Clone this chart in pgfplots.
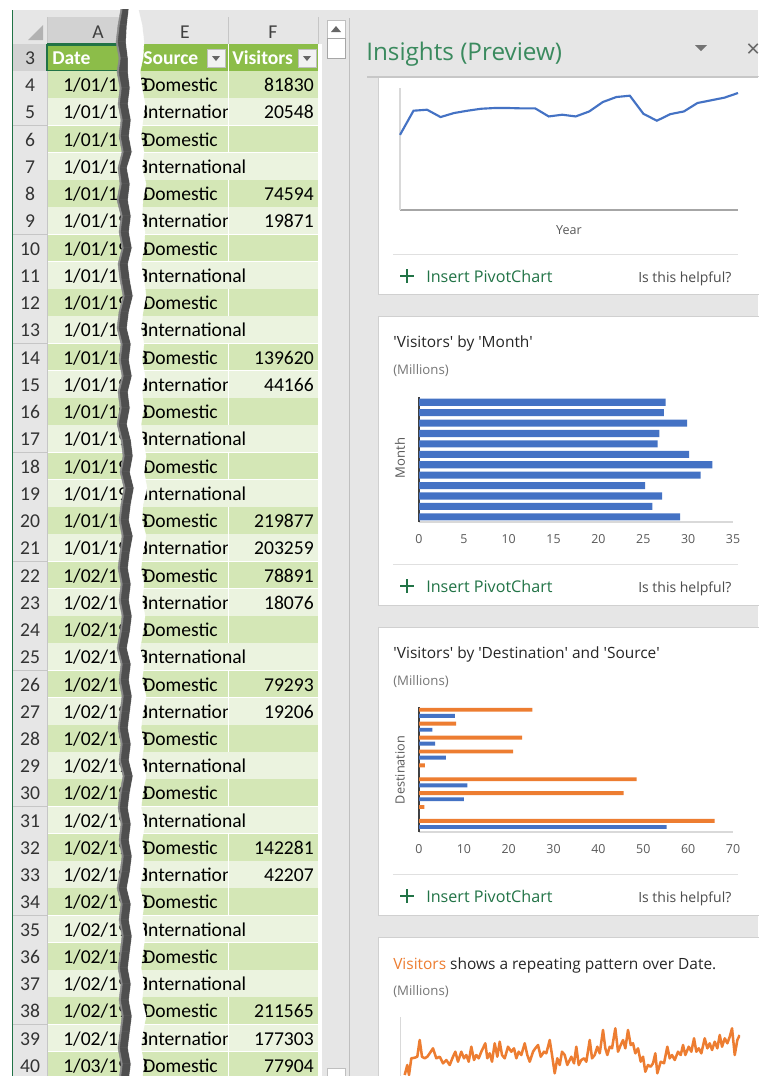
\documentclass[border=0pt]{standalone}
\usepackage{pgfplots}
\pgfplotsset{compat=1.18}
\usepackage{fontspec}
\setmainfont{Carlito}
\newfontfamily\ui{Open Sans}
\definecolor{xblue}{HTML}{4472C4}
\definecolor{xorange}{HTML}{ED7D31}
\definecolor{hdrgreen}{HTML}{8CBD49}
\definecolor{bandD}{HTML}{D4E7B6}
\definecolor{bandL}{HTML}{EBF3DF}
\definecolor{xlgreen}{HTML}{217346}
\definecolor{insgreen}{HTML}{3A8A5E}
\definecolor{panelbg}{HTML}{E6E6E6}
\definecolor{cardline}{HTML}{D0D0D0}
\definecolor{tickgray}{HTML}{595959}
\definecolor{subgray}{HTML}{767676}
\definecolor{titlegray}{HTML}{262626}
\definecolor{hdrgray}{HTML}{E6E6E6}
\definecolor{hdrsel}{HTML}{D2D2D2}
\definecolor{hdrline}{HTML}{C6C6C6}
\definecolor{tearc}{HTML}{4F4F4F}
\definecolor{tearl}{HTML}{8A8A8A}
\definecolor{axlight}{HTML}{D9D9D9}
\definecolor{axmid}{HTML}{A6A6A6}
\definecolor{axdark}{HTML}{404040}
\newcommand\cellfont{\fontsize{14.7}{16}\selectfont}
\newcommand{\xrow}[4]{%
  \pgfmathsetmacro\rT{44+(#1-3)*27.24}%
  \pgfmathsetmacro\rB{\rT+27.24}%
  \pgfmathsetmacro\rBase{\rT+20.5}%
  \ifodd#1\relax\def\bandcol{bandL}\else\def\bandcol{bandD}\fi
  \fill[fill=\bandcol] (47,-\rT) rectangle (318,-\rB);
  \fill[hdrgray] (13,-\rT) rectangle (47,-\rB);
  \draw[hdrline] (13,-\rB) -- (47,-\rB);
  \node[anchor=base,font=\cellfont,text=black!80,inner sep=0] at (30,-\rBase) {#1};
  \node[anchor=base west,font=\cellfont,inner sep=0] at (63,-\rBase) {1/#2/1998};
  \if D#3
    \node[anchor=base west,font=\cellfont,inner sep=0] at (143,-\rBase) {Domestic};
    \draw[white,line width=0.75pt] (228,-\rT) -- (228,-\rB);
  \else
    \if\relax\detokenize{#4}\relax
      \node[anchor=base west,font=\cellfont,inner sep=0] at (143,-\rBase) {International};
    \else
      \begin{scope}
        \clip (140,-\rT) rectangle (227.5,-\rB);
        \node[anchor=base west,font=\cellfont,inner sep=0] at (143,-\rBase) {International};
      \end{scope}
      \draw[white,line width=0.75pt] (228,-\rT) -- (228,-\rB);
    \fi
  \fi
  \node[anchor=base east,font=\cellfont,inner sep=0] at (314,-\rBase) {#4};
  \draw[white,line width=0.75pt] (47,-\rB) -- (318,-\rB);
}
\begin{document}
\begin{tikzpicture}[x=0.75pt,y=0.75pt]
\path[use as bounding box] (0,0) rectangle (758,-1076);
\coordinate (cA) at (400,-210);
\coordinate (cB) at (419,-522);
\coordinate (cC) at (419,-832);
\coordinate (cD) at (400.7,-1017);
\fill[white] (0,0) rectangle (758,-1076);
% ---------------- spreadsheet ----------------
\fill[hdrgray] (12,-10) rectangle (322,-44);
\fill[hdrsel] (47,-17) rectangle (130,-44);
\draw[hdrline] (47,-17) -- (47,-44) (228,-17) -- (228,-44) (318,-17) -- (318,-44) (12,-44) -- (322,-44);
\draw[xlgreen,line width=1.2pt] (47,-43.5) -- (130,-43.5);
\fill[black!30] (28,-40) -- (43,-40) -- (43,-25) -- cycle;
\node[anchor=base,font=\cellfont,text=black!75,inner sep=0] at (98,-38) {A};
\node[anchor=base,font=\cellfont,text=black!75,inner sep=0] at (185,-38) {E};
\node[anchor=base,font=\cellfont,text=black!75,inner sep=0] at (273,-38) {F};
% header row 3
\fill[hdrgreen] (47,-44) rectangle (318,-71.24);
\fill[hdrsel] (13,-44) rectangle (47,-71.24);
\draw[hdrline] (13,-71.24) -- (47,-71.24);
\draw[xlgreen,line width=1.2pt] (46.5,-44) -- (46.5,-71.24);
\node[anchor=base,font=\cellfont,text=black!80,inner sep=0] at (30,-64.5) {3};
\node[anchor=base west,font=\cellfont\bfseries,text=white,inner sep=0] at (52,-64.5) {Date};
\node[anchor=base west,font=\cellfont\bfseries,text=white,inner sep=0] at (143,-64.5) {Source};
\node[anchor=base west,font=\cellfont\bfseries,text=white,inner sep=0] at (232,-64.5) {Visitors};
\draw[white,line width=0.75pt] (228,-44) -- (228,-71.24);
\foreach \bx in {207,298}{
  \filldraw[fill=white!95!black,draw=black!25] (\bx,-49) rectangle (\bx+18,-67);
  \fill[black!60] (\bx+5,-56) -- (\bx+13,-56) -- (\bx+9,-61) -- cycle;
}
\draw[xlgreen,line width=1.5pt] (46.5,-44.5) rectangle (132,-71);
\draw[white,line width=0.75pt] (47,-71.24) -- (318,-71.24);
% data rows
\xrow{4}{01}{D}{81830}
\xrow{5}{01}{I}{20548}
\xrow{6}{01}{D}{}
\xrow{7}{01}{I}{}
\xrow{8}{01}{D}{74594}
\xrow{9}{01}{I}{19871}
\xrow{10}{01}{D}{}
\xrow{11}{01}{I}{}
\xrow{12}{01}{D}{}
\xrow{13}{01}{I}{}
\xrow{14}{01}{D}{139620}
\xrow{15}{01}{I}{44166}
\xrow{16}{01}{D}{}
\xrow{17}{01}{I}{}
\xrow{18}{01}{D}{}
\xrow{19}{01}{I}{}
\xrow{20}{01}{D}{219877}
\xrow{21}{01}{I}{203259}
\xrow{22}{02}{D}{78891}
\xrow{23}{02}{I}{18076}
\xrow{24}{02}{D}{}
\xrow{25}{02}{I}{}
\xrow{26}{02}{D}{79293}
\xrow{27}{02}{I}{19206}
\xrow{28}{02}{D}{}
\xrow{29}{02}{I}{}
\xrow{30}{02}{D}{}
\xrow{31}{02}{I}{}
\xrow{32}{02}{D}{142281}
\xrow{33}{02}{I}{42207}
\xrow{34}{02}{D}{}
\xrow{35}{02}{I}{}
\xrow{36}{02}{D}{}
\xrow{37}{02}{I}{}
\xrow{38}{02}{D}{211565}
\xrow{39}{02}{I}{177303}
\xrow{40}{03}{D}{77904}
\draw[hdrline] (47,-71) -- (47,-1076);
\draw[xlgreen,line width=1pt] (12.5,-10) -- (12.5,-1076);
% tear
\foreach \y/\a/\b/\c [remember=\y as \py (initially 8), remember=\a as \pa (initially 121), remember=\b as \pb (initially 127), remember=\c as \pc (initially 137)] in
 {8/121/127/137, 25/118/125/141, 42/116/124/143, 58/119/126/142, 72/117/126/139, 88/120/128/141, 104/118/126/144, 120/121/129/142, 136/119/127/140, 152/122/130/143, 168/118/125/141, 184/120/128/145, 200/117/126/142, 216/121/129/141, 232/119/127/144, 248/122/130/143, 264/118/126/140, 280/120/128/143, 296/123/131/145, 312/119/127/142, 328/117/125/140, 344/121/129/143, 360/119/127/141, 376/122/130/144, 392/118/126/141, 408/120/128/143, 424/117/125/140, 440/121/129/142, 456/123/131/145, 472/120/128/143, 488/124/132/146, 504/121/129/142, 520/119/127/141, 536/122/131/145, 552/120/128/142, 568/118/126/140, 584/121/129/143, 600/119/127/141, 616/122/130/144, 632/120/128/142, 648/117/125/139, 664/121/129/143, 680/119/127/141, 696/122/130/145, 712/120/128/142, 728/118/126/140, 744/121/129/143, 760/119/127/141, 776/123/131/145, 792/120/128/142, 808/118/126/140, 824/121/129/144, 840/119/127/141, 856/122/130/143, 872/120/128/142, 888/117/125/139, 904/121/129/143, 920/119/127/141, 936/122/130/144, 952/120/128/142, 968/118/126/140, 984/121/129/143, 1000/119/127/141, 1016/122/130/145, 1032/120/128/142, 1048/118/126/140, 1064/121/129/143, 1080/119/127/141}
{
  \filldraw[fill=tearl,draw=tearl,line width=0.3pt] (\pa,-\py) -- (\pb+2,-\py) -- (\b+2,-\y) -- (\a,-\y) -- cycle;
  \filldraw[fill=tearc,draw=tearc,line width=0.3pt] (\pa+2,-\py) -- (\pb+2,-\py) -- (\b+2,-\y) -- (\a+2,-\y) -- cycle;
  \filldraw[fill=white,draw=white,line width=0.3pt] (\pb+2,-\py) -- (\pc+1,-\py) -- (\c+1,-\y) -- (\b+2,-\y) -- cycle;
}
\fill[white] (110,0) rectangle (150,-9);
% scrollbar
\fill[hdrgray] (320,-10) rectangle (350,-1076);
\fill[white] (318,-44) rectangle (322,-1076);
\filldraw[fill=white,draw=black!25] (327,-20) rectangle (345,-38);
\fill[black!60] (331,-32) -- (341,-32) -- (336,-26) -- cycle;
\filldraw[fill=white,draw=black!35] (327,-38) rectangle (345,-58);
\filldraw[fill=white,draw=black!25] (327,-1068) rectangle (345,-1086);
\draw[black!25] (349.5,-18) -- (349.5,-1076);
% ---------------- insights panel ----------------
\fill[panelbg] (350,-10) rectangle (758,-1076);
\node[anchor=base west,font=\ui\fontsize{18.2}{20}\selectfont,text=insgreen,inner sep=0] at (366,-60) {Insights (Preview)};
\fill[black!55] (695,-45) -- (707,-45) -- (701,-51) -- cycle;
\node[anchor=base west,font=\ui\fontsize{18}{20}\selectfont,text=black!60,inner sep=0] at (746,-57) {×};
\foreach \t/\b in {76/294, 316/605, 627/915, 937/1100}
  \filldraw[fill=white,draw=cardline] (378,-\t) rectangle (775,-\b);
\draw[black!22,line width=1pt] (367,-77) -- (758,-77);
\foreach \d in {0,310,620}{
  \draw[black!12] (393,-254-\d) -- (738,-254-\d);
  \draw[xlgreen,line width=0.8pt] (400,-276-\d) -- (414,-276-\d) (407,-269-\d) -- (407,-283-\d);
  \node[anchor=base west,font=\ui\fontsize{12.1}{14}\selectfont,text=xlgreen,inner sep=0] at (426,-282-\d) {Insert PivotChart};
  \node[anchor=base west,font=\ui\fontsize{10.5}{12}\selectfont,text=black!70,inner sep=0] at (638,-282-\d) {Is this helpful?};
}
\node[anchor=base west,font=\ui\fontsize{11.6}{14}\selectfont,text=titlegray,inner sep=0] at (393,-347) {'Visitors' by 'Month'};
\node[anchor=base west,font=\ui\fontsize{9.9}{12}\selectfont,text=subgray,inner sep=0] at (393,-374) {(Millions)};
\node[anchor=base west,font=\ui\fontsize{11.6}{14}\selectfont,text=titlegray,inner sep=0] at (393,-658) {'Visitors' by 'Destination' and 'Source'};
\node[anchor=base west,font=\ui\fontsize{9.9}{12}\selectfont,text=subgray,inner sep=0] at (393,-685) {(Millions)};
\node[anchor=base west,font=\ui\fontsize{11.6}{14}\selectfont,text=titlegray,inner sep=0] at (393,-969) {\textcolor{xorange}{Visitors} shows a repeating pattern over Date.};
\node[anchor=base west,font=\ui\fontsize{9.9}{12}\selectfont,text=subgray,inner sep=0] at (393,-995) {(Millions)};
\node[anchor=base,font=\ui\fontsize{9.4}{11}\selectfont,text=tickgray,inner sep=0] at (569,-234) {Year};
\node[rotate=90,font=\ui\fontsize{9.8}{11}\selectfont,text=tickgray,inner sep=0] at (400,-458) {Month};
\node[rotate=90,font=\ui\fontsize{9.5}{11}\selectfont,text=tickgray,inner sep=0] at (400,-770) {Destination};
% chart 1: yearly line
\begin{axis}[at={(cA)},anchor=south west,scale only axis,
  width=253.5pt,height=91.5pt,xmin=1991,xmax=2016,ymin=0,ymax=10,
  axis lines=left,xtick=\empty,ytick=\empty,
  x axis line style={-,draw=axmid,line width=1pt},
  y axis line style={-,draw=axlight,line width=1pt},clip=false]
\addplot[color=xblue,line width=1.6pt] coordinates {
(1991,6.16) (1992,8.14) (1993,8.22) (1994,7.62) (1995,7.95) (1996,8.14) (1997,8.30)
(1998,8.36) (1999,8.36) (2000,8.33) (2001,8.33) (2002,7.67) (2003,7.81) (2004,7.67)
(2005,8.08) (2006,8.85) (2007,9.26) (2008,9.37) (2009,7.89) (2010,7.32) (2011,7.86)
(2012,8.08) (2013,8.77) (2014,8.99) (2015,9.21) (2016,9.59)};
\end{axis}
% chart 2: by month
\begin{axis}[at={(cB)},anchor=south west,scale only axis,
  width=235.5pt,height=93.75pt,xmin=0,xmax=35,ymin=0.5,ymax=12.5,
  axis lines=left,xtick={0,5,...,35},ytick=\empty,major tick length=0pt,
  /pgf/number format/assume math mode=true,
  tick label style={font=\ui\fontsize{9.3}{11}\selectfont,text=tickgray},
  xticklabel style={yshift=-6pt},
  x axis line style={-,draw=axlight,line width=1pt},
  y axis line style={-,draw=axdark,line width=0.8pt},
  xbar,bar width=0.68]
\addplot[fill=xblue,draw=none] coordinates {
(27.5,12) (27.3,11) (29.9,10) (26.8,9) (26.6,8) (30.1,7) (32.7,6) (31.4,5)
(25.2,4) (27.1,3) (26.0,2) (29.1,1)};
\end{axis}
% chart 3: by destination and source
\begin{axis}[at={(cC)},anchor=south west,scale only axis,
  width=235.5pt,height=93.75pt,xmin=0,xmax=70,ymin=0.5,ymax=9.5,
  axis lines=left,xtick={0,10,...,70},ytick=\empty,major tick length=0pt,
  /pgf/number format/assume math mode=true,
  tick label style={font=\ui\fontsize{9.3}{11}\selectfont,text=tickgray},
  xticklabel style={yshift=-6pt},
  x axis line style={-,draw=axlight,line width=1pt},
  y axis line style={-,draw=axdark,line width=0.8pt},
  xbar,bar width=0.28]
\addplot[fill=xblue,draw=none,bar shift=-0.14] coordinates {
(55.2,1) (0,2) (10.0,3) (10.8,4) (0,5) (6.0,6) (3.6,7) (3.0,8) (8.0,9)};
\addplot[fill=xorange,draw=none,bar shift=0.3] coordinates {
(65.9,1) (1.2,2) (45.6,3) (48.5,4) (1.3,5) (21.0,6) (23.0,7) (8.3,8) (25.3,9)};
\end{axis}
% chart 4: repeating pattern over date
\begin{axis}[at={(cD)},anchor=north west,scale only axis,
  width=254.5pt,height=81.75pt,xmin=-3.3,xmax=336,ymin=0,ymax=1.09,
  axis lines=left,xtick=\empty,ytick=\empty,
  x axis line style={-,draw=axmid},
  y axis line style={-,draw=axlight,line width=1pt}]
\addplot[color=xorange,line width=1.9pt,line join=round] coordinates {
(0.7,0.51) (3.3,0.61) (5,0.51) (7.3,0.677) (10.7,0.683) (13.3,0.693) (15.7,0.86)
(18,0.693) (20.7,0.677) (23.3,0.693) (25.7,0.727) (29,0.777) (32.3,0.677) (35.7,0.693)
(39,0.627) (42.3,0.66) (45.7,0.61) (49,0.693) (51.3,0.743) (54,0.643) (57.3,0.743)
(60,0.677) (62.3,0.71) (64.7,0.643) (67.3,0.793) (70,0.66) (72.3,0.71) (74.7,0.677)
(77.3,0.743) (81.3,0.827) (83.3,0.677) (85.7,0.727) (88,0.643) (90.7,0.827) (93.3,0.693)
(95.7,0.843) (98,0.71) (100.7,0.677) (104,0.793) (107.3,0.743) (110,0.777) (112.3,0.677)
(114.7,0.743) (117.3,0.71) (120.7,0.827) (123.3,0.71) (125.7,0.643) (129,0.743)
(131.3,0.777) (134,0.81) (136.7,0.693) (140,0.743) (142.3,0.727) (145.7,0.86) (148,0.71)
(150.7,0.527) (153.3,0.677) (155.7,0.61) (158,0.743) (160.7,0.71) (163.3,0.61)
(167.3,0.693) (170,0.627) (172.3,0.793) (174.7,0.61) (177.3,0.66) (180,0.677)
(182.3,0.643) (185.7,0.86) (188,0.677) (190.7,0.71) (193.3,0.793) (195.7,0.727)
(199,0.96) (201.3,0.777) (203.3,0.71) (205.7,0.793) (208,0.777) (211.3,0.977)
(214,0.743) (216.7,0.81) (219,0.86) (221.3,0.777) (224,0.96) (226.7,0.81) (229,0.827)
(231.3,0.727) (234,0.777) (236.7,0.643) (239,0.693) (241.3,0.543) (244,0.61)
(246.7,0.593) (249,0.627) (251.3,0.727) (253.3,0.527) (256.7,0.643) (260,0.627)
(263.3,0.793) (265.7,0.677) (268,0.71) (270.7,0.66) (274,0.743) (276.7,0.71) (279,0.81)
(281.3,0.71) (284.7,0.793) (287.3,0.743) (290,0.877) (292.3,0.743) (294.7,0.777)
(297.3,0.727) (300.7,0.877) (303.3,0.777) (305.7,0.827) (308,0.76) (310.7,0.843)
(313.3,0.777) (315.7,0.91) (318,0.793) (320.7,0.877) (323.3,0.827) (325.7,0.893)
(328,0.977) (330.7,0.71) (333.3,0.86) (335.7,0.91)};
\end{axis}
\end{tikzpicture}
\end{document}
